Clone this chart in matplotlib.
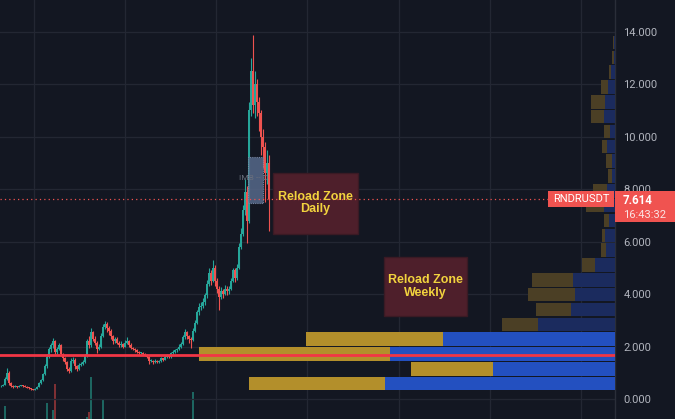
import numpy as np
import matplotlib
matplotlib.use("Agg")
import matplotlib.pyplot as plt
from matplotlib.patches import Rectangle

plt.rcParams['font.family'] = ['Roboto', 'DejaVu Sans']

# ---------------- data ----------------
symbol = "RNDRUSDT"
last_time = "16:43:32"
first_open = 0.48
closes = [
    0.50, 0.55, 0.78, 1.00, 0.62, 0.50, 0.46, 0.48, 0.45, 0.50,
    0.52, 0.50, 0.46, 0.43, 0.41, 0.38, 0.36, 0.40, 0.46, 0.60,
    0.72, 0.95, 1.25, 1.60, 1.90, 2.05, 2.20, 1.80, 1.92, 2.05,
    1.70, 1.55, 1.40, 1.15, 1.05, 1.45, 1.50, 1.25, 1.15, 1.30,
    1.35, 1.40, 1.65, 2.20, 2.05, 2.55, 2.30, 2.15, 1.90, 2.00,
    2.40, 2.75, 2.85, 2.70, 2.60, 2.40, 2.20, 2.30, 2.15, 2.05,
    2.10, 2.00, 2.15, 2.20, 2.05, 1.95, 1.90, 1.85, 1.80, 1.75,
    1.75, 1.70, 1.68, 1.60, 1.45, 1.45, 1.40, 1.45, 1.40, 1.45,
    1.55, 1.50, 1.60, 1.65, 1.60, 1.75, 1.80, 1.85, 1.90, 2.00,
    2.10, 2.35, 2.55, 2.40, 2.30, 2.25, 2.60, 2.90, 3.30, 3.50,
    3.55, 3.70, 3.95, 4.40, 4.80, 4.50, 5.00, 4.50, 4.20, 3.90,
    4.10, 4.00, 4.20, 4.10, 4.20, 4.50, 4.90, 4.60, 5.00, 5.80,
    6.30, 7.20, 7.90, 6.80, 11.00, 12.50, 11.20, 12.00, 11.30, 10.90,
    10.00, 9.60, 8.60, 9.00, 7.614]
highs = [
    0.53, 0.58, 0.82, 1.18, 1.05, 0.66, 0.53, 0.52, 0.50, 0.53,
    0.55, 0.54, 0.52, 0.48, 0.45, 0.43, 0.40, 0.42, 0.48, 0.63,
    0.76, 1.00, 1.32, 1.70, 2.00, 2.15, 2.32, 2.25, 2.00, 2.12,
    2.08, 1.75, 1.60, 1.45, 1.22, 1.55, 1.60, 1.55, 1.30, 1.38,
    1.42, 1.48, 1.72, 2.30, 2.40, 2.72, 2.60, 2.40, 2.20, 2.10,
    2.50, 2.85, 2.98, 2.92, 2.78, 2.65, 2.45, 2.38, 2.36, 2.22,
    2.20, 2.15, 2.25, 2.35, 2.25, 2.12, 2.00, 1.95, 1.90, 1.84,
    1.80, 1.78, 1.74, 1.72, 1.64, 1.52, 1.50, 1.52, 1.48, 1.50,
    1.60, 1.58, 1.66, 1.72, 1.70, 1.80, 1.86, 1.92, 1.96, 2.08,
    2.18, 2.45, 2.68, 2.60, 2.45, 2.35, 2.70, 3.00, 3.40, 3.65,
    3.70, 3.85, 4.05, 4.55, 5.00, 4.90, 5.28, 5.10, 4.60, 4.30,
    4.25, 4.20, 4.35, 4.30, 4.30, 4.60, 5.00, 5.00, 5.15, 5.95,
    6.50, 7.40, 8.40, 8.10, 11.30, 13.00, 13.87, 12.50, 12.20, 11.50,
    11.00, 10.30, 9.80, 9.50, 9.30]
lows = [
    0.45, 0.48, 0.53, 0.74, 0.55, 0.46, 0.42, 0.44, 0.43, 0.44,
    0.48, 0.47, 0.44, 0.41, 0.39, 0.36, 0.33, 0.35, 0.38, 0.45,
    0.57, 0.70, 0.92, 1.20, 1.55, 1.80, 1.95, 1.72, 1.70, 1.85,
    1.62, 1.45, 1.32, 1.08, 0.98, 1.02, 1.38, 1.15, 1.08, 1.12,
    1.25, 1.30, 1.38, 1.60, 1.95, 2.00, 2.20, 2.05, 1.75, 1.85,
    1.95, 2.35, 2.65, 2.55, 2.45, 2.30, 2.10, 2.12, 2.08, 1.98,
    2.00, 1.95, 1.97, 2.10, 2.00, 1.90, 1.85, 1.80, 1.75, 1.70,
    1.70, 1.66, 1.62, 1.55, 1.32, 1.40, 1.35, 1.37, 1.36, 1.38,
    1.42, 1.45, 1.48, 1.57, 1.55, 1.58, 1.70, 1.76, 1.80, 1.86,
    1.96, 2.05, 2.30, 2.30, 2.15, 1.95, 2.20, 2.55, 2.85, 3.20,
    3.40, 3.45, 3.60, 3.85, 4.30, 4.35, 4.45, 4.30, 4.05, 3.40,
    3.80, 3.85, 3.95, 3.95, 4.00, 4.15, 4.45, 4.45, 4.55, 4.95,
    5.70, 6.20, 7.00, 5.95, 6.70, 10.80, 10.90, 10.70, 10.80, 10.20,
    9.30, 8.80, 7.50, 8.20, 6.40]
volumes = [
    20, 25, 55, 30, 22, 15, 10, 9, 8, 10,
    9, 8, 8, 7, 7, 8, 9, 10, 14, 22,
    26, 30, 35, 58, 36, 33, 51, 77, 30, 28,
    25, 22, 20, 24, 22, 30, 26, 20, 15, 14,
    16, 18, 30, 44, 49, 84, 35, 30, 28, 25,
    34, 62, 38, 30, 26, 22, 20, 18, 16, 15,
    14, 13, 15, 16, 14, 12, 11, 10, 10, 10,
    9, 9, 10, 12, 14, 12, 10, 10, 9, 10,
    11, 10, 12, 12, 11, 13, 14, 15, 16, 18,
    20, 26, 30, 24, 22, 25, 69, 36, 34, 32,
    28, 27, 30, 34, 36, 32, 35, 33, 28, 30,
    26, 24, 25, 24, 25, 28, 32, 30, 32, 36,
    36, 37, 38, 38, 38, 38, 38, 37, 36, 35,
    34, 33, 32, 30, 28]

# volume profile (24 equal price bins)
vp_low, vp_high = 0.30, 13.87
vp_up = [136, 82, 191, 137, 36, 35, 47, 41, 13, 5, 3, 5,
         18, 14, 4, 6, 5, 6, 13, 14, 7, 2, 2, 1]
vp_down = [230, 122, 225, 172, 77, 44, 40, 42, 20, 9, 10, 6,
           11, 8, 3, 3, 8, 5, 11, 10, 7, 4, 1, 1]
value_area_bins = 4
poc_price = 1.68

y_ticks = [0, 2, 4, 6, 8, 10, 12, 14]

# annotations: (x0, x1, y0, y1, label)
zones = [(136, 178.5, 6.30, 8.63, "Reload Zone\nDaily"),
         (191.5, 233, 3.16, 5.41, "Reload Zone\nWeekly")]
imb_zone = (123.5, 131, 7.48, 9.24, "IMB -- D")

# ---------------- style ----------------
BG = '#131722'
GRID = '#232733'
UP = '#26a69a'
DOWN = '#ef5350'
VOL_UP = '#1d6661'
VOL_DOWN = '#7e3034'
GOLD = '#b38f2b'
BLUE = '#2350c0'
GOLD_DIM = '#4b3f25'
BLUE_DIM = '#1b2b5e'

W, H = 675, 419
PLOT_W = 615
fig = plt.figure(figsize=(W / 100, H / 100), dpi=100, facecolor=BG)

closes = np.array(closes)
highs = np.array(highs)
lows = np.array(lows)
opens = np.concatenate([[first_open], closes[:-1]])
n = len(closes)
x = np.arange(n)
up = closes >= opens

XLIM = (-0.5, 307)
YLIM = (-0.762, 15.206)

# volume pane (bottom mostly below the visible area)
axv = fig.add_axes([0, -0.1, PLOT_W / W, 0.3], zorder=0)
axv.set_facecolor(BG)
axv.bar(x, volumes, width=0.6, color=[VOL_UP if u else VOL_DOWN for u in up])
axv.set_xlim(*XLIM)
axv.set_ylim(0, 0.3 * H)
axv.axis('off')

ax = fig.add_axes([0, 0, PLOT_W / W, 1], zorder=1)
ax.patch.set_visible(False)
ax.set_xlim(*XLIM)
ax.set_ylim(*YLIM)

# grid
ax.set_yticks(y_ticks)
ax.set_yticklabels([f"{v:.3f}" for v in y_ticks])
ax.set_xticks([16.5, 62, 107.5, 153, 199, 244.5, 290])
ax.set_xticklabels([])
ax.grid(True, color=GRID, lw=0.9)
ax.yaxis.tick_right()
ax.tick_params(axis='y', length=0, pad=6, labelcolor='#b2b5be', labelsize=8)
ax.tick_params(axis='x', length=0)
for s in ['top', 'left', 'bottom']:
    ax.spines[s].set_visible(False)
ax.spines['right'].set_color('#2a2e39')
ax.spines['right'].set_linewidth(1)

# candles
cols = np.where(up, UP, DOWN)
ax.vlines(x, lows, highs, colors=cols, lw=0.8, zorder=3)
body_lo = np.minimum(opens, closes)
body_h = np.maximum(np.abs(closes - opens), 0.03)
ax.bar(x, body_h, bottom=body_lo, width=0.75, color=cols, zorder=3, lw=0)

# current price dotted line
ax.axhline(closes[-1], color=DOWN, lw=0.9, ls=(0, (1, 2.5)), zorder=5)

# reload zones
for x0, x1, y0, y1, lab in zones:
    ax.add_patch(Rectangle((x0, y0), x1 - x0, y1 - y0, facecolor='#4e1f2b',
                           edgecolor='#3a1a24', lw=1, zorder=4))
    ax.text((x0 + x1) / 2, (y0 + y1) / 2, lab, ha='center', va='center',
            color='#f2d33e', fontsize=9, fontweight='bold',
            family=['Liberation Sans', 'DejaVu Sans'], linespacing=1.05, zorder=6)

ix0, ix1, iy0, iy1, ilab = imb_zone
ax.add_patch(Rectangle((ix0, iy0), ix1 - ix0, iy1 - iy0, facecolor='#56698a',
                       edgecolor='#8090ad', lw=0.8, ls=(0, (1, 1)), alpha=0.85, zorder=4))
ax.text((ix0 + ix1) / 2 - 1, 8.42, ilab, ha='center', va='center', color='#6a6f7c',
        fontsize=6, zorder=5)

# volume profile
axp = ax.twiny()
axp.set_xlim(PLOT_W, 0)
axp.axis('off')
edges = np.linspace(vp_low, vp_high, len(vp_up) + 1)
centers = (edges[:-1] + edges[1:]) / 2
bin_h = (edges[1] - edges[0]) - 0.05
in_va = np.arange(len(vp_up)) < value_area_bins
vp_up = np.array(vp_up)
vp_down = np.array(vp_down)
axp.barh(centers, vp_down, height=bin_h, left=0,
         color=np.where(in_va, BLUE, BLUE_DIM), lw=0, zorder=2)
axp.barh(centers, vp_up, height=bin_h, left=vp_down,
         color=np.where(in_va, GOLD, GOLD_DIM), lw=0, zorder=2)
axp.axhline(poc_price, color='#f23645', lw=2.0, zorder=3)

# price labels
tr = axp.get_yaxis_transform()
axp.add_patch(Rectangle((548 / PLOT_W, 7.32), 66 / PLOT_W, 0.61, transform=tr,
                        facecolor='#f05350', edgecolor='none', zorder=6, clip_on=False))
axp.text(581 / PLOT_W, 7.62, symbol, transform=tr, ha='center', va='center',
         color='white', fontsize=8, zorder=7, clip_on=False)
axp.add_patch(Rectangle((1.0, 6.745), (W - PLOT_W) / PLOT_W, 1.182, transform=tr,
                        facecolor='#f05350', edgecolor='none', zorder=6, clip_on=False))
axp.text(623 / PLOT_W, 7.58, f"{closes[-1]:.3f}", transform=tr, ha='left', va='center',
         color='white', fontsize=8.3, fontweight='bold', zorder=7, clip_on=False)
axp.text(623 / PLOT_W, 7.02, last_time, transform=tr, ha='left', va='center',
         color='#fbe3e3', fontsize=8, zorder=7, clip_on=False)

fig.savefig("out.png", dpi=100, facecolor=BG)
